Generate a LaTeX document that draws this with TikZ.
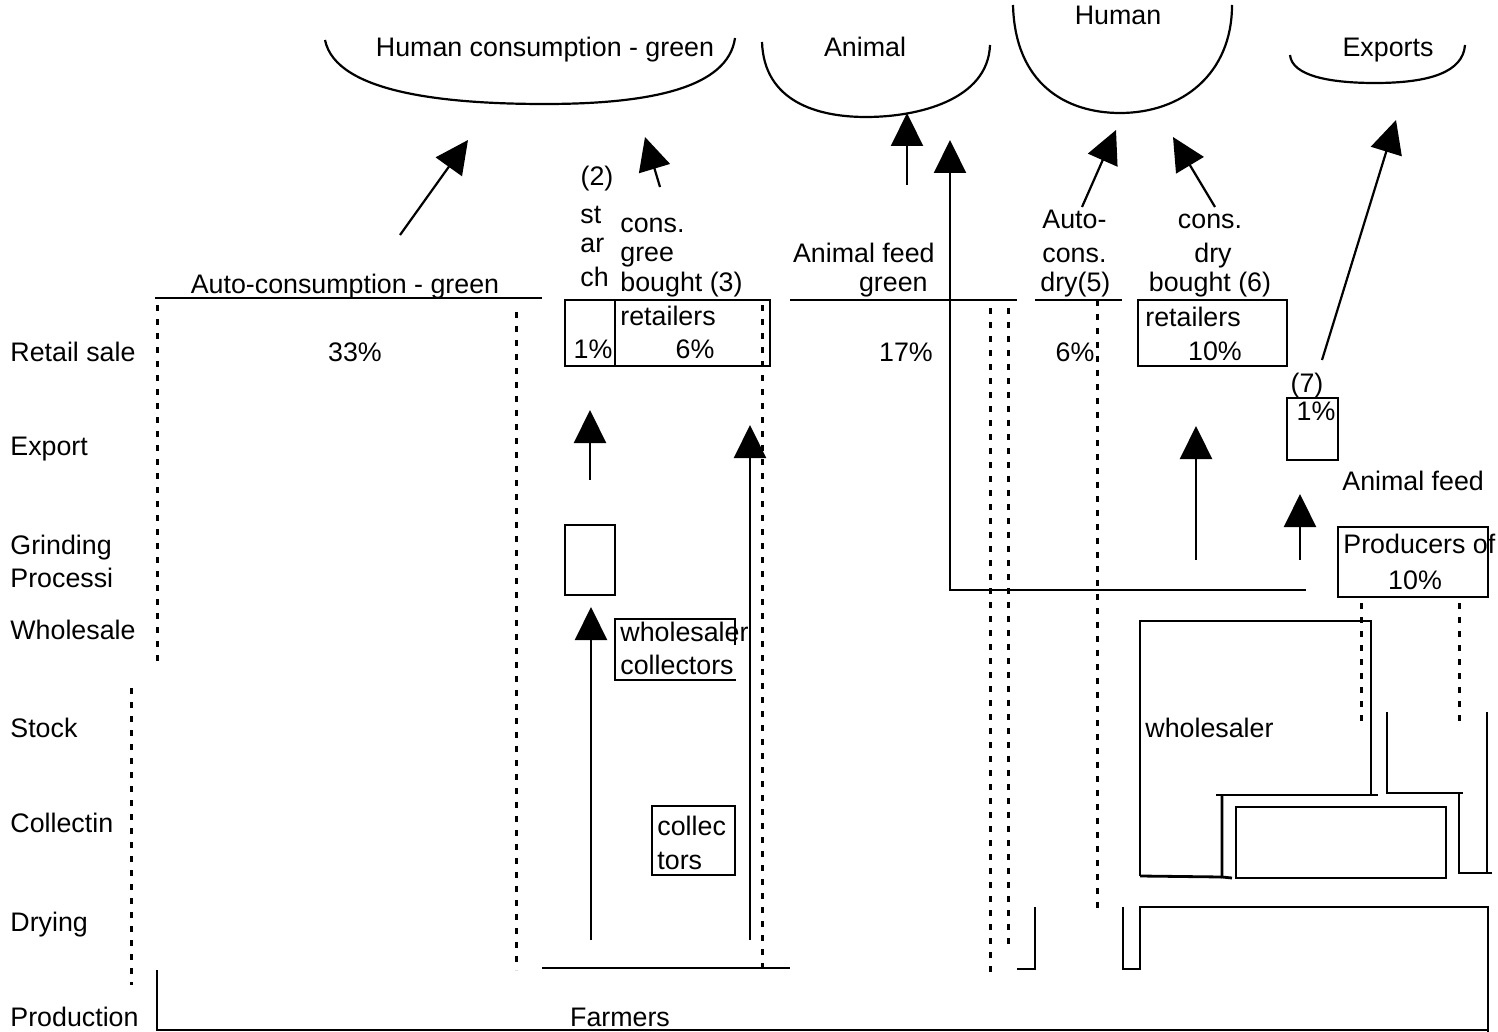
\documentclass[tikz,border=0pt]{standalone}
\usepackage{fontspec}
\setmainfont{Liberation Sans}
\usetikzlibrary{arrows.meta}

\tikzset{
  lbl/.style={inner sep=0pt, anchor=base, font=\fontsize{13.4}{16}\selectfont},
  lblw/.style={lbl, anchor=base west},
  lble/.style={lbl, anchor=base east},
  box/.style={draw, line width=1.4pt, inner sep=0pt},
  wall/.style={line width=1.4pt},
  dots/.style={line width=1.5pt, dash pattern=on 3pt off 4pt},
  flow/.style={line width=1.1pt, -{Triangle[length=16.5pt,width=16pt]}},
  bowl/.style={line width=1.1pt}
}

\begin{document}
\begin{tikzpicture}[x=0.5pt,y=-0.5pt]
\useasboundingbox (0,0) rectangle (1498,1032);

% destinations
\draw [bowl] (325,40) .. controls (336,94) and (450,104) .. (545,104) .. controls (650,104) and (728,88) .. (735,38);
\draw [bowl] (762,42) .. controls (764,102) and (818,117) .. (866,117) .. controls (918,117) and (988,100) .. (990,45);
\draw [bowl] (1013,5) .. controls (1015,84) and (1066,113) .. (1120,113) .. controls (1182,113) and (1232,74) .. (1232,5);
\draw [bowl] (1290,55) .. controls (1292,76) and (1330,83) .. (1375,83) .. controls (1430,83) and (1463,72) .. (1465,45);
\node (hcgreen) [lbl] at (545,57) {Human consumption - green};
\node (animal) [lbl] at (865,57) {Animal};
\node (human) [lbl] at (1118,25) {Human};
\node (exports) [lbl] at (1388,57) {Exports};

% stages
\node (rRetail) [lblw] at (10,361) {Retail sale};
\node (rExport) [lblw] at (10,455) {Export};
\node (rGrind) [lblw] at (10,554) {Grinding};
\node (rProc) [lblw] at (10,587) {Processi};
\node (rWhole) [lblw] at (10,639) {Wholesale};
\node (rStock) [lblw] at (10,737) {Stock};
\node (rCollect) [lblw] at (10,832) {Collectin};
\node (rDry) [lblw] at (10,931) {Drying};
\node (rProd) [lblw] at (10,1026) {Production};

% column heads
\node (hAuto) [lbl] at (345,293) {Auto-consumption - green};
\node (pAuto) [lbl] at (355,361) {33\%};
\node (h2) [lbl] at (597,186) {(2)};
\node (hSt) [lblw] at (580,224) {st};
\node (hAr) [lblw] at (580,252) {ar};
\node (hCh) [lblw] at (580,286) {ch};
\node (hCons) [lblw] at (620,233) {cons.};
\node (hGree) [lblw] at (620,262) {gree};
\node (hBought) [lblw] at (620,292) {bought (3)};
\node (hFeed) [lble] at (935,263) {Animal feed};
\node (hGreen) [lble] at (928,292) {green};
\node (pFeed) [lbl] at (906,361) {17\%};
\node (hAutoD) [lblw] at (1042,228) {Auto-};
\node (hConsD) [lblw] at (1042,263) {cons.};
\node (hDry5) [lblw] at (1040,292) {dry(5)};
\node (pAutoD) [lbl] at (1075,361) {6\%};
\node (hConsB) [lbl] at (1210,228) {cons.};
\node (hDryB) [lbl] at (1213,263) {dry};
\node (hBought6) [lbl] at (1210,292) {bought (6)};

\draw [wall] (155,298) -- (542,298);
\draw [wall] (790,300) -- (1017,300);
\draw [wall] (1035,300) -- (1122,300);

% retailers
\node (starch) [box, minimum width=25pt, minimum height=33pt] at (590,333) {};
\node (retG) [box, minimum width=77.5pt, minimum height=33pt] at (692.5,333) {};
\node (retD) [box, minimum width=74.5pt, minimum height=33pt] at (1212.5,333) {};
\node [lblw] at (620,325) {retailers};
\node (pStarch) [lbl] at (593,358) {1\%};
\node (pRetG) [lbl] at (695,358) {6\%};
\node [lblw] at (1145,326) {retailers};
\node (pRetD) [lbl] at (1215,360) {10\%};

% export and producers of feed
\node (exp) [box, minimum width=25.5pt, minimum height=31pt] at (1312.5,429) {};
\node (h7) [lbl] at (1307,392) {(7)};
\node (pExp) [lbl] at (1316,420) {1\%};
\node (hFeed8) [lblw] at (1342,490) {Animal feed};
\node (prod) [box, minimum width=75pt, minimum height=35pt] at (1413,562) {};
\node [lblw] at (1343,553) {Producers of};
\node (pProd) [lbl] at (1415,589) {10\%};

% grinding, wholesale and collectors
\node (grind) [box, minimum width=25pt, minimum height=35pt] at (590,560) {};
\draw [wall] (735,645) -- (735,619) -- (615,619) -- (615,680) -- (736,680);
\node (wsc1) [lblw] at (620,641) {wholesaler};
\node (wsc2) [lblw] at (620,674) {collectors};
\node (coll) [box, minimum width=41.5pt, minimum height=34.5pt] at (693.5,840.5) {};
\node [lblw] at (657,835) {collec};
\node [lblw] at (657,869) {tors};

% wholesaler block
\draw [wall] (1140,876) -- (1140,621) -- (1371,621) -- (1371,795);
\draw [wall] (1216,795) -- (1378,795);
\draw [wall] (1222,795) -- (1222,877) -- (1232,878);
\draw [wall] (1140,876) -- (1222,877);
\node (inner) [box, minimum width=105pt, minimum height=35.5pt] at (1341,842.5) {};
\node (wsl) [lblw] at (1145,737) {wholesaler};
\draw [wall] (1387,712) -- (1387,793) -- (1463,793);
\draw [wall] (1459,793) -- (1459,873) -- (1492,873);
\draw [wall] (1487,712) -- (1487,873);

% drying and farmers
\draw [wall] (542,968) -- (790,968);
\draw [wall] (1017,969) -- (1035,969) -- (1035,907);
\draw [wall] (1123,907) -- (1123,969) -- (1140,969) -- (1140,907) -- (1488,907) -- (1488,1032);
\draw [wall] (157,970) -- (157,1030) -- (1488,1030);
\node (farmers) [lbl] at (620,1026) {Farmers};

% dotted separators
\draw [dots] (157,305) -- (157,668);
\draw [dots] (131,688) -- (131,985);
\draw [dots] (516,312) -- (516,970);
\draw [dots] (762,305) -- (762,970);
\draw [dots] (990,308) -- (990,975);
\draw [dots] (1008,308) -- (1008,945);
\draw [dots] (1097,300) -- (1097,912);
\draw [dots] (1361,603) -- (1361,723);
\draw [dots] (1459,603) -- (1459,723);

% flows
\coordinate (aAuto) at (400,235);
\coordinate (tAuto) at (468,140);
\coordinate (aBought) at (660,187);
\coordinate (tBought) at (645,137);
\coordinate (aFeed) at (907,185);
\coordinate (tFeed) at (907,113);
\coordinate (aLong) at (1306,590);
\coordinate (kLong) at (950,590);
\coordinate (tLong) at (950,140);
\coordinate (aAutoD) at (1082,207);
\coordinate (tAutoD) at (1116,130);
\coordinate (aBoughtD) at (1215,207);
\coordinate (tBoughtD) at (1173,137);
\coordinate (aExp) at (1322,360);
\coordinate (tExp) at (1396,120);
\coordinate (aStarch) at (590,480);
\coordinate (tStarch) at (590,410);
\coordinate (aGrind) at (591,940);
\coordinate (tGrind) at (591,607);
\coordinate (aRetG) at (750,940);
\coordinate (tRetG) at (750,425);
\coordinate (aRetD) at (1196,560);
\coordinate (tRetD) at (1196,426);
\coordinate (aExpF) at (1300,560);
\coordinate (tExpF) at (1300,494);

\draw [flow] (aAuto) -- (tAuto);
\draw [flow] (aBought) -- (tBought);
\draw [flow] (aFeed) -- (tFeed);
\draw [flow] (aLong) -- (kLong) -- (tLong);
\draw [flow] (aAutoD) -- (tAutoD);
\draw [flow] (aBoughtD) -- (tBoughtD);
\draw [flow] (aExp) -- (tExp);
\draw [flow] (aStarch) -- (tStarch);
\draw [flow] (aGrind) -- (tGrind);
\draw [flow] (aRetG) -- (tRetG);
\draw [flow] (aRetD) -- (tRetD);
\draw [flow] (aExpF) -- (tExpF);
\end{tikzpicture}
\end{document}
